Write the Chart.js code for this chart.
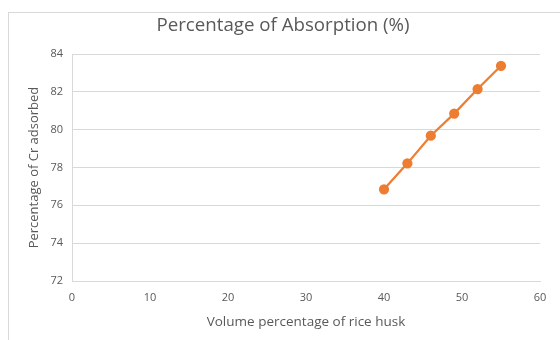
<!DOCTYPE html>
<html>
<head>
<meta charset="utf-8">
<script src="https://cdn.jsdelivr.net/npm/chart.js@4.4.1/dist/chart.umd.min.js"></script>
<style>
  html, body { margin: 0; padding: 0; background: #ffffff; }
  #wrap { position: relative; width: 560px; height: 340px; overflow: hidden; }
  #frame { position: absolute; left: 8px; top: 12px; width: 600px; height: 400px; border: 1px solid #d9d9d9; box-sizing: border-box; }
  canvas { position: absolute; left: 0; top: 0; }
</style>
</head>
<body>
<div id="wrap">
  <div id="frame"></div>
  <canvas id="c" width="560" height="340"></canvas>
</div>
<script>
// Rice husk volume (%) against chromium adsorbed (%)
const huskVolume = [40, 43, 46, 49, 52, 55];
const crAdsorbed = [76.85, 78.22, 79.68, 80.85, 82.15, 83.38];
const xTicks = [0, 10, 20, 30, 40, 50, 60];
const yTicks = [72, 74, 76, 78, 80, 82, 84];

const textColor = '#595959';
const fontFamily = '"Open Sans", "Liberation Sans", sans-serif';

new Chart(document.getElementById('c'), {
  type: 'scatter',
  data: {
    datasets: [{
      data: huskVolume.map((x, i) => ({ x: x, y: crAdsorbed[i] })),
      showLine: true,
      borderColor: '#ED7D31',
      backgroundColor: '#ED7D31',
      borderWidth: 2.25,
      pointRadius: 4,
      pointHoverRadius: 4,
      tension: 0
    }]
  },
  options: {
    responsive: false,
    animation: false,
    layout: { padding: { left: 26, right: 20, top: 0, bottom: 0 } },
    plugins: {
      legend: { display: false },
      tooltip: { enabled: false },
      title: {
        display: true,
        text: 'Percentage of Absorption (%)',
        color: textColor,
        font: { family: fontFamily, size: 18.7, weight: 'normal' },
        padding: { top: 14.6, bottom: 17 }
      }
    },
    scales: {
      x: {
        type: 'linear',
        min: 0, max: 60,
        afterBuildTicks: s => { s.ticks = xTicks.map(v => ({ value: v })); },
        afterFit: s => { s.height = 59; },
        grid: { display: false, drawTicks: false },
        border: { display: true, color: '#d9d9d9', width: 1 },
        ticks: { color: textColor, padding: 10, font: { family: fontFamily, size: 11 } },
        title: {
          display: true,
          text: 'Volume percentage of rice husk',
          color: textColor,
          font: { family: fontFamily, size: 13.5 },
          padding: { top: 8, bottom: 10 }
        }
      },
      y: {
        type: 'linear',
        min: 72, max: 84,
        afterBuildTicks: s => { s.ticks = yTicks.map(v => ({ value: v })); },
        afterFit: s => { s.width = 46; },
        grid: { color: '#d9d9d9', lineWidth: 1, drawTicks: false },
        border: { display: true, color: '#d9d9d9', width: 1 },
        ticks: { color: textColor, padding: 9, font: { family: fontFamily, size: 11 } },
        title: {
          display: true,
          text: 'Percentage of Cr adsorbed',
          color: textColor,
          font: { family: fontFamily, size: 13 },
          padding: { top: 0, bottom: 2 }
        }
      }
    }
  }
});
</script>
</body>
</html>
